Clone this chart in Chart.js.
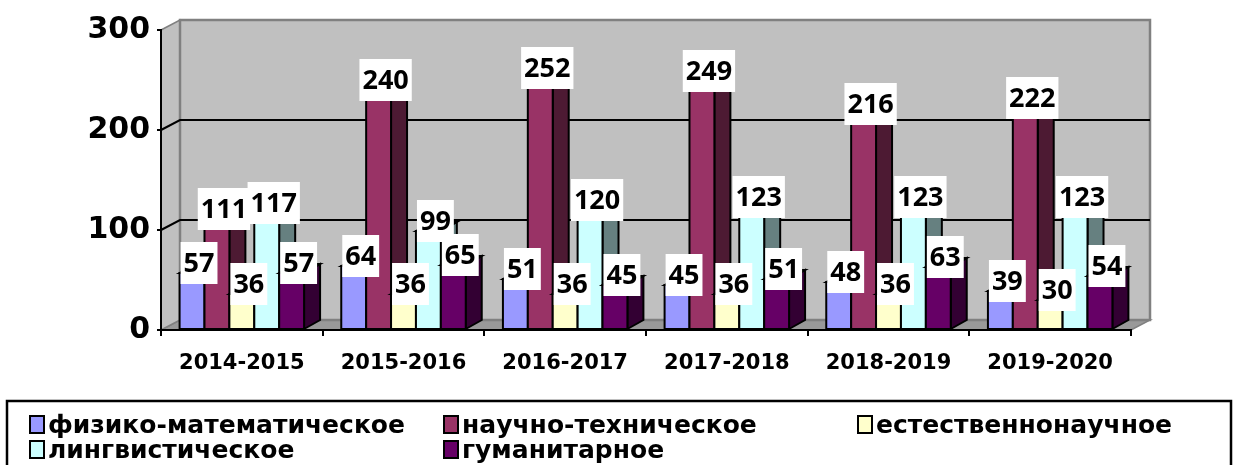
<!DOCTYPE html>
<html>
<head>
<meta charset="utf-8">
<script src="https://cdn.jsdelivr.net/npm/chart.js@4.4.1/dist/chart.umd.min.js"></script>
<style>
  html, body { margin: 0; padding: 0; background: #fff; }
  #wrap { width: 1236px; height: 465px; }
</style>
</head>
<body>
<div id="wrap"><canvas id="chart" width="1236" height="465"></canvas></div>
<script>
// chart data
const years = ['2014-2015', '2015-2016', '2016-2017', '2017-2018', '2018-2019', '2019-2020'];
const physMath = [57, 64, 51, 45, 48, 39];
const sciTech = [111, 240, 252, 249, 216, 222];
const natural = [36, 36, 36, 36, 36, 30];
const lingvo = [117, 99, 120, 123, 123, 123];
const humanit = [57, 65, 45, 51, 63, 54];
const seriesNames = ['физико-математическое', 'научно-техническое', 'естественнонаучное', 'лингвистическое', 'гуманитарное'];
const yTicks = [0, 100, 200, 300];

// looks
const frontColors = ['#9999ff', '#993366', '#ffffcc', '#ccffff', '#660066'];
const sideColors = ['#4d4d80', '#4d1a33', '#808066', '#668080', '#330033'];
const topColors = ['#7373bf', '#73264d', '#bfbf99', '#99bfbf', '#4d004d'];
const WALL = { x: 19, y: -10 };
const BAR = { x: 16, y: -9 };

function poly(ctx, pts, fill, stroke, lw) {
  ctx.beginPath();
  ctx.moveTo(pts[0][0], pts[0][1]);
  for (let i = 1; i < pts.length; i++) ctx.lineTo(pts[i][0], pts[i][1]);
  ctx.closePath();
  if (fill) { ctx.fillStyle = fill; ctx.fill(); }
  if (stroke) { ctx.strokeStyle = stroke; ctx.lineWidth = lw; ctx.stroke(); }
}

const wallPlugin = {
  id: 'walls',
  beforeDraw(chart) {
    const { ctx, chartArea: a, scales: { y } } = chart;
    const dx = WALL.x, dy = WALL.y;
    ctx.save();
    // floor
    poly(ctx, [[a.left, a.bottom], [a.left + dx, a.bottom + dy], [a.right + dx, a.bottom + dy], [a.right, a.bottom]], '#999999', '#808080', 1.5);
    // left side wall
    poly(ctx, [[a.left, a.top], [a.left + dx, a.top + dy], [a.left + dx, a.bottom + dy], [a.left, a.bottom]], '#c0c0c0', '#808080', 1.5);
    // back wall
    poly(ctx, [[a.left + dx, a.top + dy], [a.right + dx, a.top + dy], [a.right + dx, a.bottom + dy], [a.left + dx, a.bottom + dy]], '#c0c0c0', '#808080', 2.5);
    // gridlines across side wall and back wall
    ctx.strokeStyle = '#000';
    ctx.lineWidth = 2;
    y.ticks.forEach(t => {
      if (t.value === y.min || t.value === y.max) return;
      const py = y.getPixelForValue(t.value);
      ctx.beginPath();
      ctx.moveTo(a.left, py);
      ctx.lineTo(a.left + dx, py + dy);
      ctx.lineTo(a.right + dx, py + dy);
      ctx.stroke();
    });
    ctx.restore();
  }
};

const barsPlugin = {
  id: 'bars3d',
  beforeDatasetsDraw(chart) {
    const { ctx } = chart;
    const metas = chart.data.datasets.map((_, i) => chart.getDatasetMeta(i));
    const n = chart.data.labels.length;
    const dx = BAR.x, dy = BAR.y;
    ctx.save();
    ctx.lineJoin = 'miter';
    for (let j = 0; j < n; j++) {
      metas.forEach((meta, i) => {
        const { x, y, base, width } = meta.data[j].getProps(['x', 'y', 'base', 'width'], true);
        const l = x - width / 2, r = x + width / 2;
        poly(ctx, [[r, base], [r + dx, base + dy], [r + dx, y + dy], [r, y]], sideColors[i], '#000', 2);
        poly(ctx, [[l, y], [l + dx, y + dy], [r + dx, y + dy], [r, y]], topColors[i], '#000', 2);
        poly(ctx, [[l, base], [l, y], [r, y], [r, base]], frontColors[i], '#000', 2);
      });
    }
    // value labels in white boxes
    ctx.font = 'bold 27px "Open Sans"';
    ctx.textAlign = 'center';
    ctx.textBaseline = 'middle';
    for (let j = 0; j < n; j++) {
      metas.forEach((meta, i) => {
        const { x, y } = meta.data[j].getProps(['x', 'y'], true);
        const txt = String(chart.data.datasets[i].data[j]);
        const w = ctx.measureText(txt).width + 6;
        const cx = x + dx / 2 - 1, cy = y - 10;
        ctx.fillStyle = '#fff';
        ctx.fillRect(cx - w / 2, cy - 21, w, 42);
        ctx.fillStyle = '#000';
        ctx.fillText(txt, cx, cy + 1);
      });
    }
    ctx.restore();
    return false;
  }
};

const legendPlugin = {
  id: 'boxLegend',
  afterDraw(chart) {
    const { ctx } = chart;
    ctx.save();
    ctx.strokeStyle = '#000';
    ctx.lineWidth = 2.5;
    ctx.strokeRect(7, 401, 1224, 90);
    ctx.font = 'bold 25px "DejaVu Sans"';
    ctx.textAlign = 'left';
    ctx.textBaseline = 'alphabetic';
    chart.data.datasets.forEach((ds, i) => {
      const col = i % 3, row = Math.floor(i / 3);
      const mx = 30 + col * 414, by = 433 + row * 25;
      ctx.fillStyle = frontColors[i];
      ctx.fillRect(mx, by - 17, 14, 17);
      ctx.lineWidth = 2;
      ctx.strokeRect(mx, by - 17, 14, 17);
      ctx.fillStyle = '#000';
      ctx.fillText(ds.label, mx + 18, by);
    });
    ctx.restore();
  }
};

const seriesData = [physMath, sciTech, natural, lingvo, humanit];

new Chart(document.getElementById('chart'), {
  type: 'bar',
  data: {
    labels: years,
    datasets: seriesNames.map((name, i) => ({
      label: name,
      data: seriesData[i],
      backgroundColor: frontColors[i],
      borderColor: '#000',
      borderWidth: 2,
      barPercentage: 1,
      categoryPercentage: 0.77
    }))
  },
  options: {
    responsive: false,
    animation: false,
    events: [],
    layout: { padding: { top: 30, right: 105, bottom: 75, left: 0 } },
    plugins: { legend: { display: false }, tooltip: { enabled: false } },
    scales: {
      x: {
        grid: { display: true, drawOnChartArea: false, offset: true, tickLength: 6, color: '#000', lineWidth: 2 },
        border: { color: '#000', width: 2 },
        ticks: { color: '#000', font: { family: 'DejaVu Sans', weight: 'bold', size: 21 }, padding: 15, maxRotation: 0 },
        afterFit(s) { s.height = 60; }
      },
      y: {
        min: 0,
        max: 300,
        afterBuildTicks(s) { s.ticks = yTicks.map(v => ({ value: v })); },
        grid: { display: true, drawOnChartArea: false, tickLength: 4, color: '#000', lineWidth: 2 },
        border: { color: '#000', width: 2 },
        ticks: { color: '#000', font: { family: 'DejaVu Sans', weight: 'bold', size: 30 }, padding: 7 },
        afterFit(s) { s.width = 161; }
      }
    }
  },
  plugins: [wallPlugin, barsPlugin, legendPlugin]
});
</script>
</body>
</html>
